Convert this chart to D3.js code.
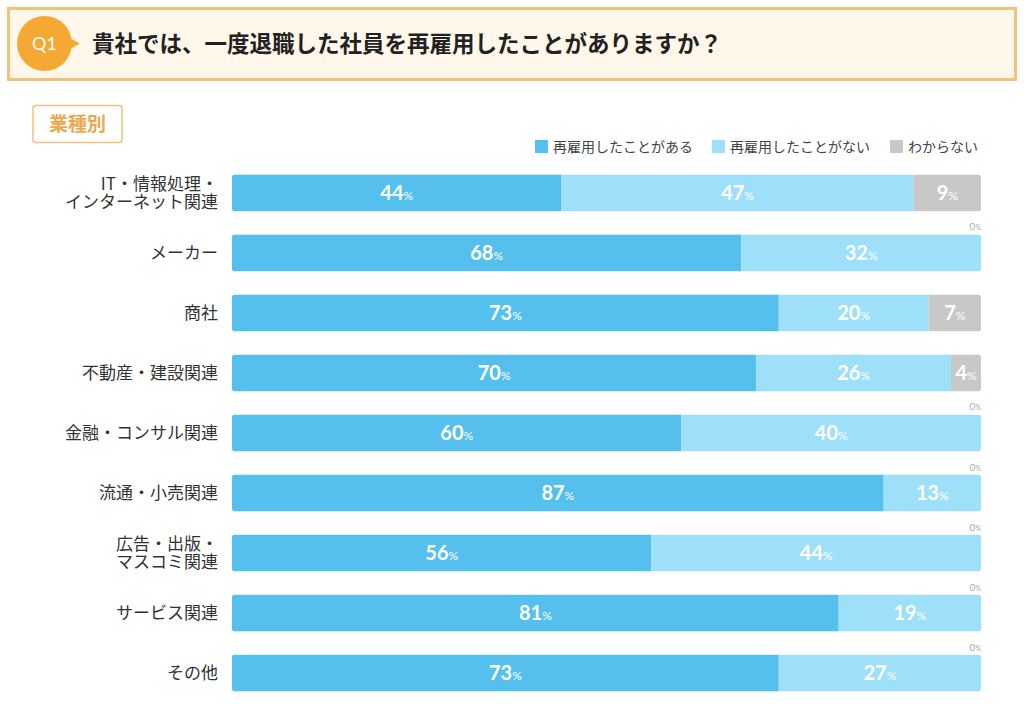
<!DOCTYPE html>
<html><head><meta charset="utf-8">
<script src="https://cdn.jsdelivr.net/npm/d3@7"></script>
<style>
html,body{margin:0;padding:0;background:#fff;}
svg{display:block;font-family:"Noto Sans CJK JP","Noto Sans",sans-serif;}
</style></head>
<body><svg id="chart" width="1025" height="704"></svg>
<script>
const title = "貴社では、一度退職した社員を再雇用したことがありますか？";
const badge = "Q1";
const subtitle = "業種別";
const categories = [
  ["IT・情報処理・","インターネット関連"],
  ["メーカー"],
  ["商社"],
  ["不動産・建設関連"],
  ["金融・コンサル関連"],
  ["流通・小売関連"],
  ["広告・出版・","マスコミ関連"],
  ["サービス関連"],
  ["その他"]
];
const seriesNames = ["再雇用したことがある","再雇用したことがない","わからない"];
const rehired    = [44,68,73,70,60,87,56,81,73];
const notRehired = [47,32,20,26,40,13,44,19,27];
const unknown    = [9,0,7,4,0,0,0,0,0];
const colors = ["#55bfee","#9edff9","#c8c8c8"];

const svg = d3.select("#chart");

// Header
svg.append("rect").attr("x",8.5).attr("y",8.5).attr("width",1007).attr("height",71)
  .attr("fill","#fff8ea").attr("stroke","#f1c27b").attr("stroke-width",3);
svg.append("path").attr("d","M66,36 L80,43.5 L66,51 Z").attr("fill","#f5a933");
svg.append("circle").attr("cx",44.5).attr("cy",43.5).attr("r",27.5).attr("fill","#f5a933");
svg.append("text").attr("x",44.5).attr("y",50).attr("text-anchor","middle")
  .attr("fill","#fff").attr("font-size",18).attr("font-family","Lato,'Noto Sans',sans-serif")
  .text(badge);
svg.append("text").attr("x",92).attr("y",52).attr("font-size",22.5).attr("font-weight","bold")
  .attr("fill","#222").text(title);

// subtitle box
svg.append("rect").attr("x",33).attr("y",105.5).attr("width",89).attr("height",37).attr("rx",3)
  .attr("fill","#fff").attr("stroke","#f1c27b").attr("stroke-width",1.5);
svg.append("text").attr("x",77.5).attr("y",131).attr("text-anchor","middle")
  .attr("font-size",19).attr("font-weight","bold").attr("fill","#eaa94d").text(subtitle);

// Legend
const legendX = [535,712,890];
const lg = svg.append("g");
seriesNames.forEach((n,i)=>{
  lg.append("rect").attr("x",legendX[i]).attr("y",140).attr("width",13).attr("height",13).attr("fill",colors[i]);
  lg.append("text").attr("x",legendX[i]+18).attr("y",152).attr("font-size",14).attr("fill","#444").text(n);
});

// Scales
const x = d3.scaleLinear().domain([0,100]).range([232,981]);
const y = d3.scaleBand().domain(d3.range(categories.length)).range([163,703]).paddingInner(0.383).paddingOuter(0.19);

const data = categories.map((c,i)=>({i, cat:c, vals:[rehired[i],notRehired[i],unknown[i]]}));
const stack = data.map(d=>{
  let acc=0;
  return d.vals.map((v,k)=>{const s={k,x0:acc,x1:acc+v,v,i:d.i}; acc+=v; return s;});
});

const defs = svg.append("defs");
data.forEach(d=>{
  defs.append("clipPath").attr("id","clip"+d.i).append("rect")
    .attr("x",x(0)).attr("y",y(d.i)).attr("width",x(100)-x(0)).attr("height",y.bandwidth()).attr("rx",3);
});

const rows = svg.selectAll("g.row").data(data).join("g").attr("class","row");
rows.each(function(d){
  const g = d3.select(this);
  const segs = stack[d.i];
  g.append("g").attr("clip-path",`url(#clip${d.i})`).selectAll("rect").data(segs.filter(s=>s.v>0)).join("rect")
    .attr("x",s=>x(s.x0)).attr("y",y(d.i)).attr("width",s=>x(s.x1)-x(s.x0)).attr("height",y.bandwidth())
    .attr("fill",s=>colors[s.k]);
  const cy = y(d.i)+y.bandwidth()/2;
  segs.filter(s=>s.v>0).forEach(s=>{
    const t = g.append("text").attr("x",(x(s.x0)+x(s.x1))/2).attr("y",cy+7).attr("text-anchor","middle")
      .attr("fill","#fff").attr("font-family","Lato,'Noto Sans',sans-serif");
    t.append("tspan").attr("font-size",20).attr("font-weight","bold").text(s.v);
    t.append("tspan").attr("font-size",12).text("%");
  });
  // zero label for "unknown"
  if(d.vals[2]===0){
    const t = g.append("text").attr("x",x(100)).attr("y",y(d.i)-4).attr("text-anchor","end")
      .attr("fill","#aaa").attr("font-family","Lato,'Noto Sans',sans-serif");
    t.append("tspan").attr("font-size",10).text(0);
    t.append("tspan").attr("font-size",7).text("%");
  }
  // category label (single text element, lines as tspans)
  const lines = d.cat;
  const lh = 18;
  const t0 = cy + 6 - (lines.length-1)*lh/2;
  const lt = g.append("text").attr("x",218).attr("y",t0).attr("text-anchor","end")
    .attr("font-size",17).attr("fill","#333");
  lines.forEach((ln,j)=>{
    lt.append("tspan").attr("x",218).attr("dy",j===0?0:lh).text(ln);
  });
});
</script></body></html>
